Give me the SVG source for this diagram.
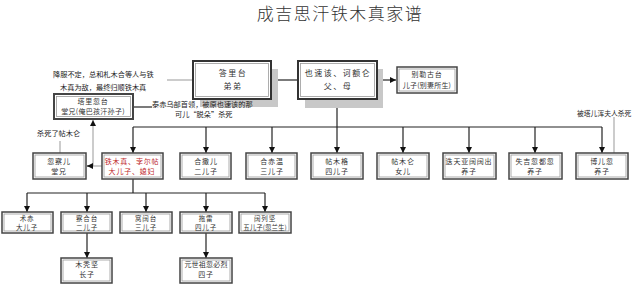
<svg xmlns="http://www.w3.org/2000/svg" width="640" height="285" viewBox="0 0 640 285">
<defs>
<marker id="ah" markerUnits="userSpaceOnUse" markerWidth="7" markerHeight="7" refX="6" refY="3" orient="auto">
<path d="M0,0 L6,3 L0,6 z" fill="#111"/>
</marker>
<style>
text{font-family:"Noto Sans CJK SC","Noto Sans",sans-serif;fill:#333;text-anchor:middle}
.title{font-size:17px;letter-spacing:1.5px;fill:#333;font-weight:300}
.bt{font-size:8px;letter-spacing:1.5px}
.nt{font-size:7px;letter-spacing:0.8px}
.st{font-size:6.5px;letter-spacing:0.8px}
.red{fill:#c0282c}
.ann{font-size:7.2px;text-anchor:start;fill:#222}
.box{fill:#fff;stroke:#444;stroke-width:1.5}
.inner{fill:none;stroke:#999;stroke-width:0.8}
.big{fill:#fff;stroke:#333;stroke-width:2}
.shadow{fill:#c8c8c8}
.ln{fill:none;stroke:#222;stroke-width:1.2}
.gl{fill:none;stroke:#999;stroke-width:1}
.ar{marker-end:url(#ah)}
</style>
</defs>
<rect width="640" height="285" fill="#fff"/>
<text class="title" x="340" y="20">成吉思汗铁木真家谱</text>

<g id="connectors">
<line class="ln ar" x1="298" y1="80" x2="272" y2="80"/>
<line class="ln ar" x1="377" y1="80" x2="396" y2="80"/>
<line class="gl" x1="193" y1="80" x2="167" y2="80"/>
<line class="ln" x1="133" y1="107" x2="152" y2="107"/>
<line class="ln" x1="337" y1="99" x2="337" y2="127"/>
<line class="ln" x1="133" y1="127" x2="602" y2="127"/>
<line class="ln ar" x1="133" y1="127" x2="133" y2="153"/>
<line class="ln ar" x1="206" y1="127" x2="206" y2="153"/>
<line class="ln ar" x1="272" y1="127" x2="272" y2="153"/>
<line class="ln ar" x1="337" y1="127" x2="337" y2="153"/>
<line class="ln ar" x1="403" y1="127" x2="403" y2="153"/>
<line class="ln ar" x1="469" y1="127" x2="469" y2="153"/>
<line class="ln ar" x1="535" y1="127" x2="535" y2="153"/>
<line class="ln ar" x1="602" y1="127" x2="602" y2="153"/>
<line class="gl" x1="614" y1="117" x2="614" y2="153"/>
<line class="gl" x1="60" y1="141" x2="60" y2="153"/>
<line class="gl" x1="102" y1="166" x2="93" y2="166"/>
<line class="gl ar" x1="93" y1="166" x2="93" y2="120"/>
<line class="ln ar" x1="93" y1="166" x2="87" y2="166"/>
<line class="ln" x1="133" y1="179" x2="133" y2="193"/>
<line class="ln" x1="27" y1="193" x2="265" y2="193"/>
<line class="ln ar" x1="27" y1="193" x2="27" y2="212"/>
<line class="ln ar" x1="87" y1="193" x2="87" y2="212"/>
<line class="ln ar" x1="146" y1="193" x2="146" y2="212"/>
<line class="ln ar" x1="206" y1="193" x2="206" y2="212"/>
<line class="ln ar" x1="265" y1="193" x2="265" y2="212"/>
<line class="ln ar" x1="87" y1="233" x2="87" y2="258"/>
<line class="ln ar" x1="206" y1="233" x2="206" y2="258"/>
</g>

<g id="n-daritai">
<rect class="shadow" x="200" y="69" width="78" height="38"/>
<rect class="big" x="193" y="61" width="78" height="38"/>
<rect class="inner" x="195.5" y="63.5" width="73" height="33"/>
<text class="bt" x="233" y="76">答里台</text>
<text class="bt" x="233" y="89">弟弟</text>
</g>
<g id="n-yesugei">
<rect class="shadow" x="305" y="69" width="78" height="39"/>
<rect class="big" x="298" y="61" width="79" height="38"/>
<rect class="inner" x="300.5" y="63.5" width="74" height="33"/>
<text class="bt" x="338" y="76">也速该、诃额仑</text>
<text class="bt" x="338" y="89">父、母</text>
</g>
<g id="n-belgutei">
<rect class="box" x="397" y="67" width="60" height="26"/>
<rect class="inner" x="399" y="69" width="56" height="22"/>
<text class="nt" x="427" y="77">别勒古台</text>
<text class="nt" x="427" y="88" style="letter-spacing:0.2px">儿子(别妻所生)</text>
</g>
<g id="n-targutai">
<rect class="box" x="54" y="94" width="79" height="25" style="stroke-width:2"/>
<rect class="inner" x="56.5" y="96.5" width="74" height="20"/>
<text class="nt" x="93" y="104">塔里忽台</text>
<text class="nt" x="93" y="114" style="letter-spacing:0.3px">堂兄(俺巴孩汗孙子)</text>
</g>

<g id="n-huchar">
<rect class="box" x="33" y="153" width="53" height="26"/>
<rect class="inner" x="35" y="155" width="49" height="22"/>
<text class="nt" x="59" y="164">忽察儿</text>
<text class="nt" x="59" y="174">堂兄</text>
</g>
<g id="n-temujin">
<rect class="box" x="102" y="153" width="61" height="26"/>
<rect class="inner" x="104" y="155" width="57" height="22"/>
<text class="nt red" x="132" y="164">铁木真、孛尔帖</text>
<text class="nt red" x="132" y="174">大儿子、媳妇</text>
</g>
<g id="n-qasar">
<rect class="box" x="180" y="153" width="51" height="26"/>
<rect class="inner" x="182" y="155" width="47" height="22"/>
<text class="nt" x="206" y="164">合撒儿</text>
<text class="nt" x="206" y="174">二儿子</text>
</g>
<g id="n-qachiun">
<rect class="box" x="246" y="153" width="51" height="26"/>
<rect class="inner" x="248" y="155" width="47" height="22"/>
<text class="nt" x="272" y="164">合赤温</text>
<text class="nt" x="272" y="174">三儿子</text>
</g>
<g id="n-temuge">
<rect class="box" x="311" y="153" width="52" height="26"/>
<rect class="inner" x="313" y="155" width="48" height="22"/>
<text class="nt" x="337" y="164">帖木格</text>
<text class="nt" x="337" y="174">四儿子</text>
</g>
<g id="n-temulun">
<rect class="box" x="377" y="153" width="52" height="26"/>
<rect class="inner" x="379" y="155" width="48" height="22"/>
<text class="nt" x="403" y="164">帖木仑</text>
<text class="nt" x="403" y="174">女儿</text>
</g>
<g id="n-kokochu">
<rect class="box" x="443" y="153" width="53" height="26"/>
<rect class="inner" x="445" y="155" width="49" height="22"/>
<text class="nt" x="469" y="164">迭天亚阔阔出</text>
<text class="nt" x="469" y="174">养子</text>
</g>
<g id="n-shigi">
<rect class="box" x="509" y="153" width="53" height="26"/>
<rect class="inner" x="511" y="155" width="49" height="22"/>
<text class="nt" x="535" y="164">失吉忽都忽</text>
<text class="nt" x="535" y="174">养子</text>
</g>
<g id="n-borokhul">
<rect class="box" x="576" y="153" width="52" height="26"/>
<rect class="inner" x="578" y="155" width="48" height="22"/>
<text class="nt" x="602" y="164">博儿忽</text>
<text class="nt" x="602" y="174">养子</text>
</g>

<g id="n-jochi">
<rect class="box" x="2" y="212" width="51" height="21"/>
<rect class="inner" x="4" y="214" width="47" height="17"/>
<text class="st" x="27" y="221">术赤</text>
<text class="st" x="27" y="230">大儿子</text>
</g>
<g id="n-chagatai">
<rect class="box" x="61" y="212" width="51" height="21"/>
<rect class="inner" x="63" y="214" width="47" height="17"/>
<text class="st" x="87" y="221">察合台</text>
<text class="st" x="87" y="230">二儿子</text>
</g>
<g id="n-ogedei">
<rect class="box" x="120" y="212" width="52" height="21"/>
<rect class="inner" x="122" y="214" width="48" height="17"/>
<text class="st" x="146" y="221">窝阔台</text>
<text class="st" x="146" y="230">三儿子</text>
</g>
<g id="n-tolui">
<rect class="box" x="180" y="212" width="52" height="21"/>
<rect class="inner" x="182" y="214" width="48" height="17"/>
<text class="st" x="206" y="221">拖雷</text>
<text class="st" x="206" y="230">四儿子</text>
</g>
<g id="n-kolgen">
<rect class="box" x="239" y="212" width="52" height="21"/>
<rect class="inner" x="241" y="214" width="48" height="17"/>
<text class="st" x="265" y="221">阔列坚</text>
<text class="st" x="265" y="230" style="letter-spacing:0">五儿子(忽兰生)</text>
</g>
<g id="n-mutugen">
<rect class="box" x="61" y="258" width="51" height="25"/>
<rect class="inner" x="63" y="260" width="47" height="21"/>
<text class="nt" x="87" y="267">木秃坚</text>
<text class="nt" x="87" y="277">长子</text>
</g>
<g id="n-kublai">
<rect class="box" x="180" y="258" width="52" height="25"/>
<rect class="inner" x="182" y="260" width="48" height="21"/>
<text class="nt" x="206" y="267" style="letter-spacing:0.2px">元世祖忽必烈</text>
<text class="nt" x="206" y="277">四子</text>
</g>

<g id="annotations">
<text class="ann" x="53" y="77">降服不定，总和札木合等人与铁</text>
<text class="ann" x="60" y="90">木真为敌，最终归顺铁木真</text>
<text class="ann" x="152" y="107">泰赤乌部首领，被原也速该的那</text>
<text class="ann" x="175" y="117">可儿“脱朵”杀死</text>
<text class="ann" x="37" y="136">杀死了帖木仑</text>
<text class="ann" x="577" y="116" style="font-size:6.8px">被塔儿浑夫人杀死</text>
</g>
</svg>
